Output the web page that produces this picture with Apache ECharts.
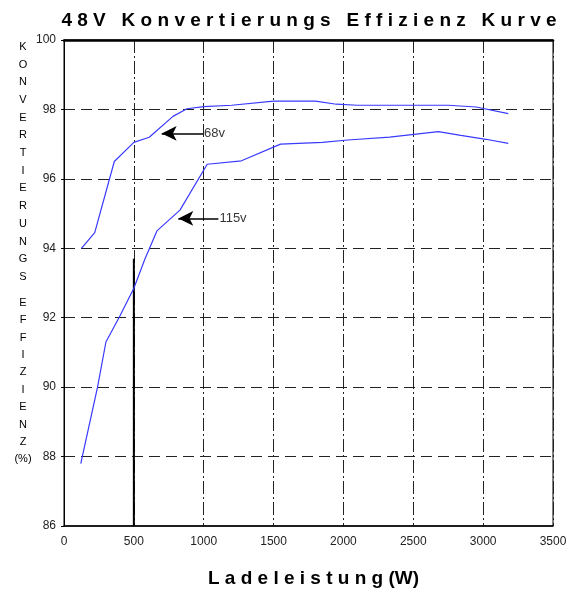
<!DOCTYPE html>
<html>
<head>
<meta charset="utf-8">
<script src="https://cdn.jsdelivr.net/npm/echarts@6/dist/echarts.min.js"></script>
<style>
  html, body { margin: 0; padding: 0; background: #fff; }
  #chart { width: 574px; height: 595px; }
</style>
</head>
<body>
<div id="chart"></div>
<script>
// ---- data
var power_68v = [125, 220, 360, 500, 610, 780, 880, 1000, 1200, 1500, 1800, 1950, 2100, 2750, 2950, 3180];
var eff_68v   = [94.0, 94.45, 96.5, 97.05, 97.2, 97.8, 98.02, 98.08, 98.12, 98.24, 98.24, 98.15, 98.12, 98.12, 98.07, 97.88];

var power_115v = [120, 240, 300, 400, 500, 580, 665, 830, 1025, 1270, 1550, 1850, 2030, 2330, 2680, 2840, 3020, 3180];
var eff_115v   = [87.8, 90.0, 91.3, 92.05, 92.85, 93.7, 94.5, 95.1, 96.42, 96.52, 97.0, 97.05, 97.12, 97.2, 97.36, 97.25, 97.14, 97.02];

// thick marker line at 500 W
var marker_x = [500, 500];
var marker_y = [86, 93.7];

// arrow annotations: [tail, head] and label
var arrow_labels = ['68v', '115v'];
var arrow_tail = [[995, 97.31], [1105, 94.86]];
var arrow_head = [[699, 97.31], [818, 94.86]];

var x_ticks = [0, 500, 1000, 1500, 2000, 2500, 3000, 3500];
var y_ticks = [86, 88, 90, 92, 94, 96, 98, 100];

function zip(xs, ys) {
    var out = [];
    for (var i = 0; i < xs.length; i++) out.push([xs[i], ys[i]]);
    return out;
}

function spaced(s) {
    // spread letters like the original title
    return s.split(' ').map(function (w) { return w.split('').join(' '); }).join('   ');
}

var font = 'Liberation Sans, Arial, sans-serif';

var chart = echarts.init(document.getElementById('chart'));

var option = {
    animation: false,
    backgroundColor: '#fff',
    title: [{
        text: spaced('48V Konvertierungs Effizienz Kurve'),
        left: 304,
        textAlign: 'center',
        top: 6,
        textStyle: { fontFamily: font, fontSize: 19, fontWeight: 'bold', color: '#000' }
    }, {
        text: 'KONVERTIERUNGS'.split('').join('\n'),
        left: 18,
        textAlign: 'center',
        top: 33,
        textStyle: { fontFamily: font, fontSize: 11, fontWeight: 'normal', lineHeight: 17.7, color: '#000' }
    }, {
        text: 'EFFIZIENZ'.split('').join('\n') + '\n(%)',
        left: 18,
        textAlign: 'center',
        top: 289,
        textStyle: { fontFamily: font, fontSize: 11, fontWeight: 'normal', lineHeight: 17.4, color: '#000' }
    }],
    grid: { left: 64, right: 21, top: 40, bottom: 69, show: true, borderColor: '#000', borderWidth: 1 },
    xAxis: [{
        type: 'value',
        min: 0, max: 3500, interval: 500,
        name: spaced('Ladeleistung') + ' (W)',
        nameLocation: 'middle',
        nameGap: 43,
        nameTextStyle: { fontFamily: font, fontSize: 19, fontWeight: 'bold', color: '#000', padding: [0, 0, 0, 10] },
        axisLine: { lineStyle: { color: '#000', width: 1.5 } },
        axisTick: { show: false },
        axisLabel: {
            margin: 10, fontFamily: font, fontSize: 12, color: '#222',
            customValues: x_ticks,
            formatter: function (v) { return String(v); }
        },
        splitLine: { show: true, lineStyle: { color: '#222', width: 1, type: [13, 3, 2, 3] } }
    }, {
        type: 'value',
        position: 'top',
        min: 0, max: 3500, interval: 500,
        axisLine: { show: true, lineStyle: { color: '#000', width: 2.5 } },
        axisTick: { show: false },
        axisLabel: { show: false },
        splitLine: { show: false }
    }],
    yAxis: [{
        type: 'value',
        min: 86, max: 100, interval: 2,
        axisLine: { show: true, lineStyle: { color: '#000', width: 1 } },
        axisTick: { show: true, length: 3, lineStyle: { color: '#000' } },
        axisLabel: { margin: 8, fontFamily: font, fontSize: 12, color: '#222', customValues: y_ticks },
        splitLine: { show: true, showMinLine: false, showMaxLine: false, lineStyle: { color: '#222', width: 1, type: [11, 6] } }
    }],
    series: [{
        name: '68V',
        type: 'line',
        data: zip(power_68v, eff_68v),
        showSymbol: false,
        lineStyle: { color: '#3a3aff', width: 1.2 },
        z: 5
    }, {
        name: '115V',
        type: 'line',
        data: zip(power_115v, eff_115v),
        showSymbol: false,
        lineStyle: { color: '#3a3aff', width: 1.2 },
        z: 5
    }, {
        name: 'marker',
        type: 'line',
        data: zip(marker_x, marker_y),
        showSymbol: false,
        lineStyle: { color: '#000', width: 2 },
        z: 4
    }, {
        name: 'labels',
        type: 'scatter',
        symbolSize: 0,
        data: arrow_tail.map(function (p, i) { return { value: p, name: arrow_labels[i] }; }),
        label: {
            show: true, position: 'right', distance: 1,
            formatter: '{b}', fontFamily: font, fontSize: 13, color: '#000'
        },
        markLine: {
            silent: true,
            symbol: ['none', 'arrow'],
            symbolSize: [11, 15],
            label: { show: false },
            lineStyle: { color: '#000', width: 1.5, type: 'solid' },
            data: arrow_tail.map(function (p, i) {
                return [{ coord: p }, { coord: arrow_head[i] }];
            })
        },
        z: 6
    }]
};

chart.setOption(option);
</script>
</body>
</html>
